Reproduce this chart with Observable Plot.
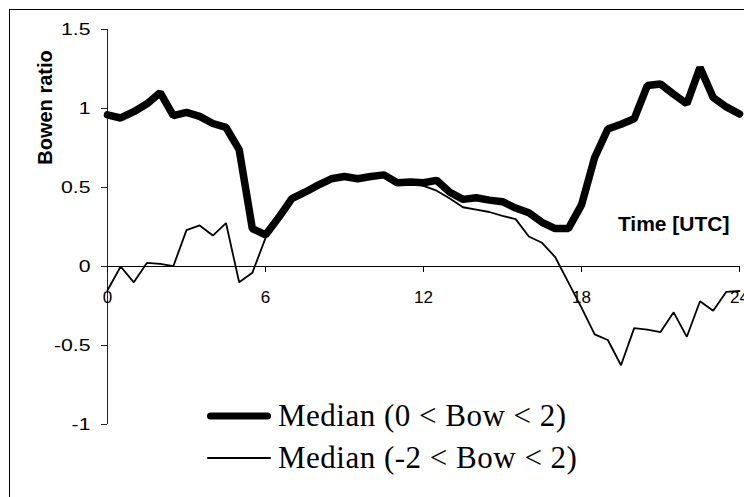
<!DOCTYPE html>
<html><head><meta charset="utf-8">
<script src="https://cdn.jsdelivr.net/npm/d3@7"></script>
<script src="https://cdn.jsdelivr.net/npm/@observablehq/plot@0.6"></script>
<style>
body{margin:0;background:#fff;}
#wrap{position:relative;width:744px;height:497px;overflow:hidden;background:#fff;}
#border{position:absolute;left:9px;top:9px;width:800px;height:600px;border:1px solid #000;box-sizing:border-box;pointer-events:none;}
#legend{position:absolute;left:205px;top:395px;font-family:"Liberation Serif","Times New Roman",serif;font-size:31px;letter-spacing:0.5px;color:#000;}
.row{display:flex;align-items:center;height:42px;white-space:nowrap;}
.row svg{display:block;margin-right:5px;}
</style></head><body><div id="wrap"><div id="border"></div></div>
<script>
// Time of day [UTC], half-hourly
const hours = [0,0.5,1,1.5,2,2.5,3,3.5,4,4.5,5,5.5,6,6.5,7,7.5,8,8.5,9,9.5,10,10.5,11,11.5,12,
  12.5,13,13.5,14,14.5,15,15.5,16,16.5,17,17.5,18,18.5,19,19.5,20,20.5,21,21.5,22,22.5,23,23.5,24];
// Median Bowen ratio (0 < Bow < 2)
const medianPos = [0.96,0.94,0.98,1.03,1.10,0.955,0.975,0.95,0.905,0.88,0.74,0.24,0.20,0.31,0.43,0.47,0.515,0.555,0.57,0.555,0.57,0.58,0.53,0.535,0.53,
  0.545,0.47,0.425,0.435,0.42,0.41,0.37,0.34,0.28,0.24,0.24,0.39,0.69,0.87,0.90,0.935,1.145,1.155,1.09,1.03,1.26,1.07,1.01,0.965];
// Median Bowen ratio (-2 < Bow < 2)
const medianAll = [-0.15,0.0,-0.10,0.023,0.017,0.002,0.23,0.26,0.196,0.275,-0.10,-0.04,0.18,0.31,0.43,0.47,0.51,0.55,0.565,0.55,0.565,0.575,0.525,0.53,0.51,
  0.48,0.43,0.375,0.36,0.345,0.32,0.30,0.19,0.15,0.06,-0.10,-0.26,-0.43,-0.465,-0.625,-0.39,-0.40,-0.415,-0.29,-0.445,-0.22,-0.28,-0.16,-0.155];
const xTicks = [0,6,12,18,24];
const yTicks = [-1,-0.5,0,0.5,1,1.5];
const seriesNames = ["Median (0 < Bow < 2)", "Median (-2 < Bow < 2)"];

const thick = hours.map((h,i)=>({h, v: medianPos[i]}));
const thin = hours.map((h,i)=>({h, v: medianAll[i]}));

const chart = Plot.plot({
  width: 744, height: 497,
  marginLeft: 107, marginRight: 5, marginTop: 29, marginBottom: 73,
  x: {domain: [0,24], axis: null},
  y: {domain: [-1,1.5], axis: null},
  style: {fontFamily: "'Liberation Sans', Arial, sans-serif", fontSize: "16px", color: "#000", background: "transparent"},
  marks: [
    Plot.axisY(yTicks, {tickSize: 6, tickPadding: 11, tickFormat: d => String(d), fontSize: 17, label: null, stroke: "#222"}),
    Plot.ruleX([0], {y1: -1, y2: 1.5, stroke: "#222"}),
    Plot.ruleY([0], {x1: 0, x2: 24, stroke: "#000"}),
    Plot.ruleX(xTicks, {x: d=>d, y1: 0, y2: 0, insetBottom: -6, stroke: "#000"}),
    Plot.line(thin, {x: "h", y: "v", stroke: "#000", strokeWidth: 1.8, strokeLinejoin: "miter"}),
    Plot.line(thick, {x: "h", y: "v", stroke: "#000", strokeWidth: 7.5, strokeLinejoin: "miter"}),
    Plot.text(xTicks, {x: d=>d, y: 0, dy: 31, text: d=>String(d), fontSize: 17, ariaLabel: "xticklabels"}),
    Plot.text(["Time [UTC]"], {x: 24, y: 0, dx: -10, dy: -36, textAnchor: "end", lineAnchor: "bottom", fontWeight: "bold", fontSize: 21}),
    Plot.text(["Bowen ratio"], {frameAnchor: "top-left", dx: -56, dy: 78, rotate: -90, textAnchor: "middle", lineAnchor: "bottom", fontWeight: "bold", fontSize: 20})
  ]
});
const wrap = document.getElementById("wrap");
wrap.insertBefore(chart, wrap.firstChild);

// horizontal stretch of the tick labels, like the reference rendering
function stretch(sel, s) {
  chart.querySelectorAll(sel).forEach(t => {
    const tr = t.getAttribute("transform");
    if (tr) t.setAttribute("transform", tr + ` scale(${s},1)`);
    else {
      const x = +(t.getAttribute("x") || 0);
      t.setAttribute("transform", `translate(${x},0) scale(${s},1) translate(${-x},0)`);
    }
  });
}
stretch('g[aria-label="y-axis tick label"] text', 1.25);
stretch('g[aria-label="xticklabels"] text', 1.3);

// legend
const legend = document.createElement("div");
legend.id = "legend";
[{name: seriesNames[0], w: 7}, {name: seriesNames[1], w: 1.8}].forEach(s => {
  const row = document.createElement("div");
  row.className = "row";
  row.innerHTML = `<svg width="68" height="20"><line x1="${2+s.w/2}" x2="${66-s.w/2}" y1="10" y2="10" stroke="#000" stroke-width="${s.w}" stroke-linecap="round"/></svg><span></span>`;
  row.querySelector("span").textContent = s.name;
  legend.appendChild(row);
});
wrap.appendChild(legend);
</script>
</body></html>
